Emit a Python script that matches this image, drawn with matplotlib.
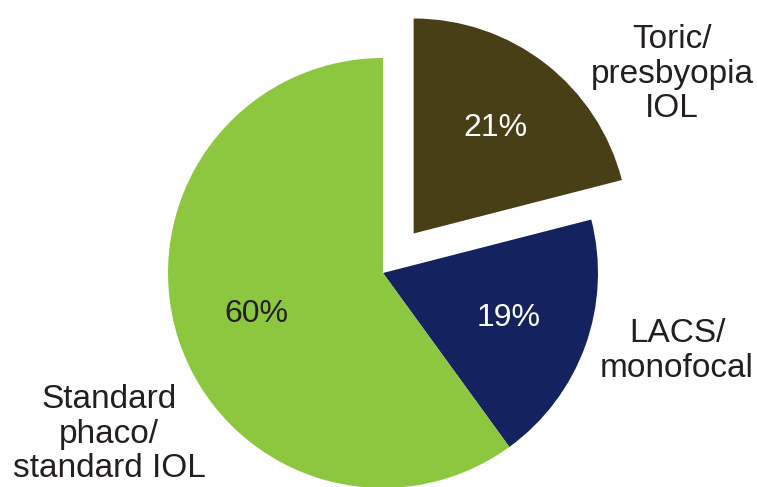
import matplotlib
matplotlib.use("Agg")
import matplotlib.pyplot as plt

categories = ["Toric/\npresbyopia\nIOL", "LACS/\nmonofocal", "Standard\nphaco/\nstandard IOL"]
values = [21, 19, 60]
colors = ["#483F17", "#14235F", "#8DC63F"]
pct_colors = ["white", "white", "#231F20"]

W, H = 757, 487
fig = plt.figure(figsize=(W / 100, H / 100), dpi=100)
ax = fig.add_axes([0, 0, 1, 1])

wedges, texts, autotexts = ax.pie(
    values, colors=colors, startangle=90, counterclock=False,
    center=(383, H - 273), radius=215, explode=[50, 0, 0],
    autopct=lambda p: f"{round(p)}%", pctdistance=0.62,
    textprops=dict(fontsize=23, family="Liberation Sans"),
    wedgeprops=dict(linewidth=0), frame=True)
ax.set_xlim(0, W)
ax.set_ylim(0, H)
ax.set_aspect("equal")
ax.axis("off")
for t, c in zip(autotexts, pct_colors):
    t.set_color(c)

label_pos = [(672, H - 74), (677, H - 351), (109, H - 434)]
for lab, (x, y) in zip(categories, label_pos):
    ax.text(x, y, lab, ha="center", va="center", fontsize=24,
            family="Liberation Sans", color="#231F20", linespacing=1.13)

fig.savefig("out.png", dpi=100)
